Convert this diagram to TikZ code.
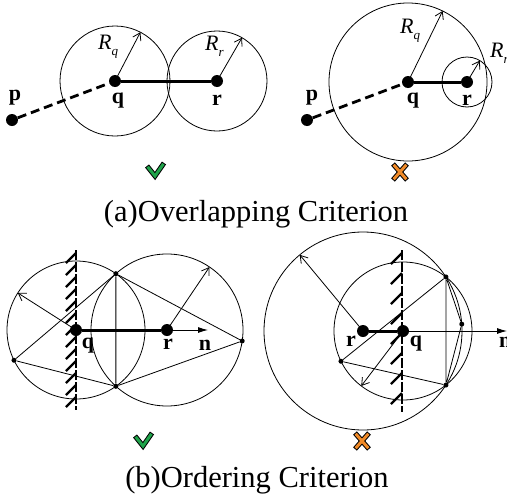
\documentclass[tikz,border=0pt]{standalone}
\usepackage{fontspec}
\setmainfont{Liberation Serif}
\usetikzlibrary{arrows.meta,calc}
\definecolor{okgreen}{HTML}{1FA34A}
\definecolor{nogo}{HTML}{F08A28}
\newcommand{\radlabel}[1]{\textit{R}\raisebox{-0.3em}{\fontsize{13}{13}\selectfont\itshape #1}}
\tikzset{
  bigdot/.style={circle,fill=black,inner sep=0pt,minimum size=12pt},
  smalldot/.style={circle,fill=black,inner sep=0pt,minimum size=5pt},
  ring/.style={draw=black,line width=0.8pt},
  link/.style={line width=3pt},
  walk/.style={line width=2.8pt,dash pattern=on 9pt off 5pt},
  rad/.style={line width=0.8pt,-{Straight Barb[length=7pt,width=9pt]}},
  dirn/.style={line width=0.9pt,-{Latex[length=10pt,width=6pt]}},
  chord/.style={line width=0.8pt},
  wallline/.style={line width=1.5pt,dash pattern=on 10pt off 2pt},
  hatch/.style={line width=2.2pt},
  ptlbl/.style={font=\fontsize{22}{26}\selectfont\bfseries,inner sep=0pt},
  rlbl/.style={font=\fontsize{22}{26}\selectfont,inner sep=0pt,anchor=base west},
  caption/.style={font=\fontsize{30.5}{36}\selectfont,inner sep=0pt,anchor=base},
  tick/.pic={
    \draw[line width=5pt,line join=miter] (-8,-4) -- (0,6) -- (9,-7);
    \draw[okgreen,line width=3pt,line join=miter,shorten <=1pt,shorten >=1pt] (-8,-4) -- (0,6) -- (9,-7);
  },
  cross/.pic={
    \draw[line width=5pt] (-7,-8) -- (7,8) (7,-8) -- (-7,8);
    \draw[nogo,line width=3pt,shorten <=1pt,shorten >=1pt] (-7,-8) -- (7,8);
    \draw[nogo,line width=3pt,shorten <=1pt,shorten >=1pt] (7,-8) -- (-7,8);
  }
}

\begin{document}
\begin{tikzpicture}[x=1pt,y=-1pt]
  \useasboundingbox (0,0) rectangle (507,501);
  % (a) left
  \node[bigdot] (p1) at (12,120) {};
  \node[bigdot] (q1) at (115,81) {};
  \node[bigdot] (r1) at (217,81) {};
  \draw[ring] (q1.center) circle[radius=55pt];
  \draw[ring] (r1.center) circle[radius=50pt];
  \coordinate (aq1) at ($(q1)+(62.5:55pt)$);
  \coordinate (ar1) at ($(r1)+(60:50pt)$);
  \draw[walk] (p1) -- (q1);
  \draw[link] (q1) -- (r1);
  \draw[rad] (q1.center) -- (aq1);
  \draw[rad] (r1.center) -- (ar1);
  \node[ptlbl] (lp1) at (15,98) {p};
  \node[ptlbl] (lq1) at (118,101) {q};
  \node[ptlbl] (lr1) at (217,100) {r};
  \node[rlbl] (lrq1) at (98,49) {\radlabel{q}};
  \node[rlbl] (lrr1) at (205,50) {\radlabel{r}};
  \pic (ok1) at (155,170) {tick};
  % (a) right
  \node[bigdot] (p2) at (307,120) {};
  \node[bigdot] (q2) at (408,82) {};
  \node[bigdot] (r2) at (467,82) {};
  \draw[ring] (q2.center) circle[radius=79pt];
  \draw[ring] (r2.center) circle[radius=25pt];
  \coordinate (aq2) at ($(q2)+(64:79pt)$);
  \coordinate (ar2) at ($(r2)+(59:25pt)$);
  \draw[walk] (p2) -- (q2);
  \draw[link] (q2) -- (r2);
  \draw[rad] (q2.center) -- (aq2);
  \draw[rad] (r2.center) -- (ar2);
  \node[ptlbl] (lp2) at (312,98) {p};
  \node[ptlbl] (lq2) at (413,101) {q};
  \node[ptlbl] (lr2) at (467,100) {r};
  \node[rlbl] (lrq2) at (400,33) {\radlabel{q}};
  \node[rlbl] (lrr2) at (490,57) {\radlabel{r}};
  \pic (no2) at (400,172) {cross};
  \node[caption] (capa) at (256,221) {(a)Overlapping Criterion};
  % (b) left
  \node[bigdot] (q3) at (76,330) {};
  \node[bigdot] (r3) at (167,330) {};
  \draw[ring] (q3.center) circle[radius=69pt];
  \draw[ring] (r3.center) circle[radius=76pt];
  \node[smalldot] (t3) at ($(q3)+(54.7:69pt)$) {};
  \node[smalldot] (b3) at ($(q3)+(-54.7:69pt)$) {};
  \node[smalldot] (l3) at ($(q3)+(206:69pt)$) {};
  \node[smalldot] (e3) at ($(r3)+(-8.3:76pt)$) {};
  \draw[chord] (t3) -- (l3) -- (b3) -- (e3) -- (t3) -- (b3);
  \coordinate (aq3) at ($(q3)+(147.5:69pt)$);
  \coordinate (ar3) at ($(r3)+(56:76pt)$);
  \coordinate (n3) at (208,330);
  \draw[rad] (q3.center) -- (aq3);
  \draw[rad] (r3.center) -- (ar3);
  \draw[dirn] (r3.center) -- (n3);
  \draw[link] (q3) -- (r3);
  \coordinate (wt3) at (76,250);
  \coordinate (wb3) at (76,410);
  \draw[wallline] (wt3) -- (wb3);
  \foreach \k in {0,...,12}
    \draw[hatch] ($(wt3)+(0,3+12*\k)$) -- ++(-10pt,-10pt);
  \node[ptlbl] (lq3) at (88,346) {q};
  \node[ptlbl] (lr3) at (168,344) {r};
  \node[ptlbl] (ln3) at (205,345) {n};
  \pic (ok3) at (143,440) {tick};
  % (b) right
  \node[bigdot] (r4) at (363,331) {};
  \node[bigdot] (q4) at (403,331) {};
  \draw[ring] (r4.center) circle[radius=99pt];
  \draw[ring] (q4.center) circle[radius=69pt];
  \node[smalldot] (t4) at ($(r4)+(33.1:99pt)$) {};
  \node[smalldot] (b4) at ($(r4)+(-33.1:99pt)$) {};
  \node[smalldot] (l4) at ($(q4)+(206:69pt)$) {};
  \node[smalldot] (e4) at ($(r4)+(4:99pt)$) {};
  \draw[chord] (t4) -- (l4) -- (b4) -- (e4) -- (t4) -- (b4);
  \coordinate (ar4) at ($(r4)+(129.7:99pt)$);
  \coordinate (aq4) at ($(q4)+(232.8:69pt)$);
  \coordinate (n4) at (507,331);
  \draw[rad] (r4.center) -- (ar4);
  \draw[rad] (q4.center) -- (aq4);
  \draw[dirn] (q4.center) -- (n4);
  \draw[link] (r4) -- (q4);
  \coordinate (wt4) at (402,250);
  \coordinate (wb4) at (402,412);
  \draw[wallline] (wt4) -- (wb4);
  \foreach \k in {0,...,7}
    \draw[hatch] ($(wt4)+(0,3+20*\k)$) -- ++(-11pt,-11pt);
  \node[ptlbl] (lr4) at (351,341) {r};
  \node[ptlbl] (lq4) at (416,344) {q};
  \node[ptlbl,anchor=west] (ln4) at (499,342) {n};
  \pic (no4) at (362,441) {cross};
  \node[caption] (capb) at (257,487) {(b)Ordering Criterion};
\end{tikzpicture}
\end{document}
